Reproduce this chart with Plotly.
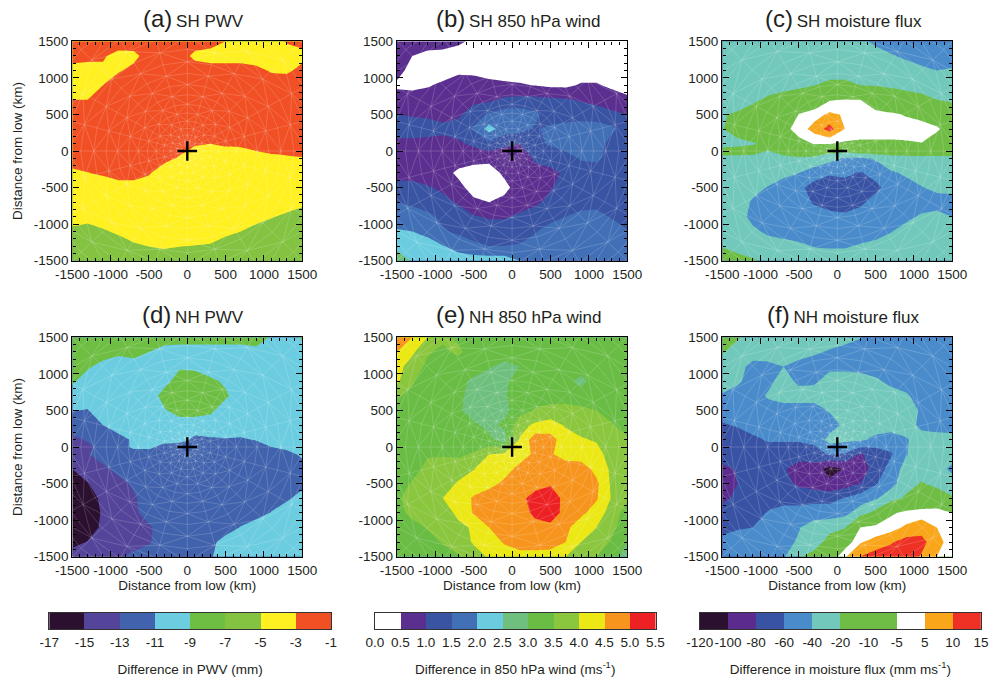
import numpy as np
import plotly.graph_objects as go

W, H = 993, 681
FONT = "Liberation Sans, Arial, sans-serif"
TXT = "#231f20"

X = [-1500,-1300,-1100,-900,-700,-500,-300,-100,100,300,500,700,900,1100,1300,1500]
Y16 = [1500,1300,1100,900,700,500,300,100,-100,-300,-500,-700,-900,-1100,-1300,-1500]
Y17 = [1500,1300,1100,900,700,500,300,100,0,-100,-300,-500,-700,-900,-1100,-1300,-1500]

AXIS_TICKS = [-1500,-1000,-500,0,500,1000,1500]
AXIS_LABELS = ["-1500","-1000","-500","0","500","1000","1500"]

PWV_LEVELS = [-17,-15,-13,-11,-9,-7,-5,-3,-1]
WIND_LEVELS = [0.0,0.5,1.0,1.5,2.0,2.5,3.0,3.5,4.0,4.5,5.0,5.5]
FLUX_LEVELS = [-120,-100,-80,-60,-40,-20,-10,-5,5,10,15]
PWV_LABELS = ["-17","-15","-13","-11","-9","-7","-5","-3","-1"]
WIND_LABELS = ["0.0","0.5","1.0","1.5","2.0","2.5","3.0","3.5","4.0","4.5","5.0","5.5"]
FLUX_LABELS = ["-120","-100","-80","-60","-40","-20","-10","-5","5","10","15"]

PWV_COLORS = ["#2b1030","#54459b","#4163ad","#6ccde0","#6fbe44","#84c341","#fff021","#f15024"]
WIND_COLORS = ["#ffffff","#5b2f8f","#3a54a4","#4270b7","#6bcce0","#6fc07e","#69bd45","#8bc63f","#ece816","#f7941d","#ed2024"]
FLUX_COLORS = ["#2b1030","#5b2c8e","#3953a4","#4a8ccb","#72c9bb","#70bd45","#70bd45","#ffffff","#faa61a","#ee3124"]

SH_PWV = [
 [-2,-2,-2,-2,-2,-2,-2,-2,-2,-2,-3,-4,-4,-4,-2.8,-2.5],
 [-2,-2.3,-2.8,-3.6,-3.5,-2.2,-2,-2,-3.5,-4,-4,-4,-4,-4,-4,-3.5],
 [-4,-4,-3.3,-3.2,-2.5,-2,-2,-2,-2,-2,-2,-2,-2.5,-3.2,-3.3,-2.5],
 [-4,-4,-3,-2,-2,-2,-2,-2,-2,-2,-2,-2,-2,-2,-2,-2],
 [-3,-3,-2,-2,-2,-2,-2,-2,-2,-2,-2,-2,-2,-2,-2,-2],
 [-2,-2,-2,-2,-2,-2,-2,-2,-2,-2,-2,-2,-2,-2,-2,-2],
 [-2,-2,-2,-2,-2,-2,-2,-2,-2,-2,-2,-2,-2,-2,-2,-2],
 [-2,-2,-2,-2,-2,-2,-2,-2,-2.82,-3,-2.75,-2.67,-2,-2,-2,-2],
 [-2,-2,-2,-2,-2,-2,-2.3,-3.25,-4,-4,-4,-4,-4,-3.43,-3.25,-3.1],
 [-3.43,-3.05,-2.75,-2.5,-2.5,-2.8,-4.3,-4,-4,-4,-4,-4,-4,-4,-4,-4],
 [-4,-4,-4,-3.5,-3.5,-4,-4,-4,-4,-4,-4,-4,-4,-4,-4,-4],
 [-4,-4,-4,-4,-4,-4,-4,-4,-4,-4,-4,-4,-4,-4,-4,-4.46],
 [-4,-4.18,-4,-4,-4,-4,-4,-4,-4,-4,-4,-4,-4,-4.89,-5.43,-6],
 [-5.54,-6,-5.25,-4.67,-4,-4,-4,-4,-4,-4,-4.46,-5,-6,-6,-6,-6],
 [-6,-6,-6,-6,-5.33,-4.95,-4.75,-4.95,-5.05,-5.18,-6,-6,-6,-6,-6,-6],
 [-6,-6,-6,-6,-6,-6,-6,-6,-6,-6,-6,-6,-6,-6,-6,-6],
]

SH_WIND = [
 [.75,.75,.75,.75,.6,.4,.25,.25,.25,.25,.25,.25,.25,.25,.25,.25],
 [.75,.5,.35,.3,.25,.25,.25,.25,.25,.25,.25,.25,.25,.25,.25,.25],
 [.7,.3,.25,.25,.4,.4,.3,.25,.25,.25,.25,.25,.25,.25,.25,.25],
 [.4,.35,.45,.6,.75,.7,.65,.6,.55,.48,.4,.4,.55,.55,.4,.3],
 [.75,.75,.75,.75,.75,.85,.9,1.1,1.15,1.15,1.1,1.05,.95,.85,.75,.6],
 [1.0,.95,.9,.8,.9,1.3,1.55,1.75,1.75,1.6,1.25,1.25,1.3,1.25,1.1,1.0],
 [1.25,1.25,1.25,1.15,1.25,1.55,2.2,1.75,1.7,1.45,1.6,1.7,1.75,1.75,1.6,1.25],
 [.85,.85,.8,.8,.9,1.1,1.35,1.1,1.0,1.4,1.55,1.75,1.8,1.75,1.3,1.25],
 [.75,.75,.75,.75,.75,.7,.65,.7,.75,1.05,1.25,1.3,1.55,1.6,1.3,1.25],
 [.75,.75,.75,.7,.4,.25,.25,.6,.75,.9,.85,1.1,1.25,1.25,1.25,1.25],
 [1.25,1.2,1.05,.9,.65,.3,.25,.35,.75,.8,.95,1.25,1.25,1.25,1.25,1.25],
 [1.5,1.4,1.3,1.15,.95,.6,.5,.65,.75,.9,1.15,1.25,1.3,1.3,1.25,1.25],
 [1.75,1.75,1.6,1.4,1.2,1.05,.95,.95,1.1,1.25,1.3,1.5,1.65,1.7,1.45,1.25],
 [2.05,2.0,1.9,1.55,1.4,1.3,1.25,1.25,1.25,1.45,1.75,1.75,1.75,1.75,1.75,1.55],
 [2.25,2.25,2.15,2.02,1.8,1.6,1.5,1.5,1.55,1.75,1.75,1.75,1.75,1.75,1.75,1.75],
 [3.1,2.4,2.25,2.25,2.25,2.25,2.25,2.25,2.0,1.8,1.75,1.75,1.75,1.75,1.75,1.75],
]

SH_FLUX = [
 [-30,-30,-30,-30,-30,-30,-30,-30,-30,-34,-45,-50,-50,-50,-50,-50],
 [-30,-30,-30,-30,-30,-30,-30,-30,-30,-30,-30,-38,-44,-50,-50,-50],
 [-30,-30,-30,-30,-30,-30,-30,-30,-30,-30,-30,-30,-30,-35,-40,-38],
 [-30,-30,-30,-30,-28,-24,-20.5,-17,-17,-20,-21,-23,-26,-28,-30,-30],
 [-28,-27,-24,-18,-15,-14,-12,-5.5,-4.5,-5,-12,-14,-15,-17,-20,-23],
 [-21,-19,-15,-13,-12,-4.5,1,6,4,0,0,-3,-5.5,-7,-13,-13],
 [-21,-15,-12,-12,-7,0,7,12,5,0,0,0,0,0,-2,-12],
 [-28,-26,-22,-16,-12,-7,-4.5,-4.5,-6,-6,-6,-6,-5.7,-5.2,-12,-13],
 [-16,-15,-15,-21,-14,-12,-12,-17,-18,-14,-13,-16,-17,-17,-17,-17],
 [-25,-27,-28,-26,-28,-23,-25,-33,-42,-43,-38,-25,-23,-23,-23,-23],
 [-30,-30,-30,-31,-36,-40,-50,-58,-55,-62,-52,-43,-37,-31,-30,-30],
 [-30,-30,-35,-41,-47,-55,-68,-70,-70,-70,-66,-50,-47,-41,-34,-32],
 [-30,-32,-42,-50,-50,-52,-62,-67,-70,-64,-52,-50,-50,-50,-50,-50],
 [-30,-31,-46,-50,-50,-50,-52,-55,-56,-52,-50,-50,-45,-37,-33,-40],
 [-30,-30,-36,-44,-50,-50,-50,-50,-50,-50,-50,-41,-32,-30,-30,-30],
 [-21,-28,-30,-30,-30,-36,-41,-42,-42,-38,-33,-30,-30,-30,-30,-30],
 [-14,-16,-19,-25,-30,-30,-30,-30,-30,-30,-30,-30,-30,-30,-30,-30],
]

NH_PWV = [
 [-8,-8,-8,-8,-8,-8,-8,-8,-8,-8,-8,-8,-8,-9.2,-10,-8.7],
 [-8,-8,-8,-8.6,-8.2,-9,-9.8,-10,-10,-10,-10,-10,-9.6,-10,-10,-10],
 [-8,-8.7,-9.7,-10,-10,-10,-10,-9.2,-9.4,-10,-10,-10,-10,-10,-10,-10],
 [-8.7,-10,-10,-10,-10,-10,-9.6,-8.2,-8,-8.6,-9.3,-10,-10,-10,-10,-10],
 [-10,-10,-10,-10,-10,-10,-8.3,-8,-8,-8,-8.7,-10,-10,-10,-10,-10],
 [-10.9,-11.1,-10,-10,-10,-10,-9.2,-8.2,-8.2,-8.6,-10,-10,-10,-10,-10,-10],
 [-12,-12,-11,-10.3,-10,-10,-10,-10,-10,-10,-10,-10,-10,-10,-10,-10],
 [-13.5,-12.8,-12,-11.5,-10.8,-10.4,-10.3,-10.3,-11.4,-11.2,-11.1,-11.2,-10.9,-10.3,-10,-10],
 [-14,-13.4,-12.4,-12,-10.6,-10.6,-11.6,-12,-12,-12,-12,-12,-11.6,-11,-10.6,-10.2],
 [-13.5,-13.1,-12.2,-12,-12,-11.8,-12,-12,-12,-12,-12,-12,-12,-11.8,-11.5,-10.7],
 [-15,-14,-13.4,-12.5,-12,-12,-12,-12,-12,-12,-12,-12,-12,-12,-12,-11.7],
 [-16,-15.1,-14,-13.6,-12.7,-12,-12,-12,-12,-12,-12,-12,-12,-12,-12,-11.5],
 [-16,-16,-14.5,-14,-13.3,-12,-12,-12,-12,-12,-12,-12,-12,-11.8,-11.3,-10.3],
 [-16,-16,-14.8,-14,-13.5,-12,-12,-12,-12,-12,-12,-12,-11.8,-10.9,-10,-10],
 [-16,-16,-14.6,-14,-14,-13.3,-12,-12,-12,-12,-11.8,-10.9,-10,-10,-10,-10],
 [-15.7,-14.9,-14,-14,-14,-13.2,-12,-12,-12,-11.5,-10.3,-10,-10,-10,-10,-10],
 [-14,-14,-14,-13.3,-12.4,-12,-12,-12,-12,-11.2,-10,-10,-10,-10,-10,-10],
]

NH_WIND = [
 [4.9,4.5,4.0,3.6,3.4,3.25,3.25,3.25,3.25,3.25,3.25,3.25,3.25,3.25,3.25,3.25],
 [4.5,4.1,3.55,3.4,3.6,3.25,3.25,3.25,3.25,3.25,3.25,3.25,3.25,3.25,3.25,3.25],
 [4.2,3.75,3.4,3.25,3.25,3.25,3.05,2.85,3.0,3.25,3.25,3.25,3.25,3.25,3.25,3.25],
 [4.1,3.55,3.25,3.25,3.15,2.9,2.75,2.9,3.25,3.25,3.25,3.15,2.85,3.25,3.25,3.25],
 [3.55,3.4,3.25,3.25,3.15,2.75,2.75,2.95,3.25,3.25,3.25,3.25,3.25,3.25,3.25,3.25],
 [3.25,3.25,3.25,3.25,3.05,2.85,2.75,2.85,3.3,3.55,3.7,3.7,3.6,3.5,3.25,3.25],
 [3.25,3.25,3.25,3.25,3.25,3.05,2.9,3.1,3.8,4.1,4.2,3.95,3.8,3.7,3.55,3.25],
 [3.25,3.25,3.25,3.25,3.25,3.25,3.1,2.8,4.05,4.8,4.7,4.2,4.05,3.95,3.75,3.55],
 [3.25,3.25,3.45,3.45,3.4,3.55,4.0,4.1,4.25,4.6,4.55,4.3,4.25,4.2,3.75,3.5],
 [3.25,3.3,3.65,3.75,3.8,3.98,4.3,4.3,4.65,4.75,4.75,4.75,4.75,4.35,3.9,3.5],
 [3.25,3.55,3.75,3.8,4.05,4.25,4.35,4.6,4.75,4.85,4.95,4.85,4.75,4.6,3.9,3.5],
 [3.4,3.75,3.75,4.0,4.25,4.55,4.75,4.75,4.9,5.15,5.25,4.85,4.75,4.55,3.95,3.6],
 [3.25,3.7,3.75,3.8,4.1,4.55,4.75,4.75,4.8,5.1,5.3,4.8,4.6,4.3,3.75,3.3],
 [3.25,3.25,3.55,3.75,3.9,4.05,4.5,4.75,4.75,4.85,4.85,4.6,4.25,4.0,3.6,3.25],
 [3.25,3.25,3.25,3.55,3.75,4.05,4.25,4.55,4.75,4.75,4.75,4.5,4.0,3.75,3.45,3.0],
 [3.1,3.25,3.25,3.25,3.45,3.8,4.05,4.25,4.3,4.3,4.25,4.0,3.85,3.5,3.25,2.7],
]

NH_FLUX = [
 [-12,-19,-27,-30,-30,-30,-30,-30,-30,-39,-50,-50,-50,-50,-50,-50],
 [-19,-28,-31,-38,-30,-30,-37,-42,-50,-50,-50,-50,-50,-50,-50,-50],
 [-30,-33,-46,-41,-40,-48,-50,-45,-46,-50,-50,-50,-50,-50,-50,-50],
 [-30,-36,-50,-46,-30,-45,-44,-30,-28,-27,-36,-46,-50,-50,-50,-50],
 [-42,-50,-50,-37,-30,-30,-30,-30,-30,-30,-30,-30,-37,-50,-50,-50],
 [-50,-50,-50,-50,-50,-50,-50,-38,-30,-30,-30,-30,-30,-43,-50,-50],
 [-62,-58,-52,-50,-50,-50,-50,-50,-35,-30,-30,-30,-30,-46,-50,-50],
 [-70,-70,-64,-58,-58,-58,-55,-33,-36,-37,-45,-50,-42,-30,-30,-32],
 [-70,-70,-70,-70,-70,-70,-68,-58,-62,-82,-72,-62,-41,-30,-30,-30],
 [-85,-78,-70,-70,-78,-90,-90,-108,-98,-90,-72,-52,-32,-30,-31,-45],
 [-90,-80,-70,-70,-75,-83,-90,-95,-90,-80,-62,-46,-30,-19,-27,-30],
 [-85,-75,-70,-70,-70,-70,-66,-66,-59,-50,-42,-30,-18,-14,-12,-19],
 [-70,-70,-70,-58,-50,-50,-50,-50,-46,-30,-17,-6,-2,0,0,-5],
 [-65,-62,-60,-50,-47,-41,-30,-26,-22,-5,-2,1,6,8,5,0],
 [-55,-50,-50,-50,-45,-38,-30,-16,-9,4,7,9.5,12,11.5,7,0],
 [-45,-50,-50,-50,-42,-22,-16,-10,4,10,12.5,12.5,12.5,9.5,5,0],
]

PANELS = [
 ("(a)","SH PWV",SH_PWV,Y16,PWV_LEVELS,PWV_COLORS),
 ("(b)","SH 850 hPa wind",SH_WIND,Y16,WIND_LEVELS,WIND_COLORS),
 ("(c)","SH moisture flux",SH_FLUX,Y17,FLUX_LEVELS,FLUX_COLORS),
 ("(d)","NH PWV",NH_PWV,Y17,PWV_LEVELS,PWV_COLORS),
 ("(e)","NH 850 hPa wind",NH_WIND,Y16,WIND_LEVELS,WIND_COLORS),
 ("(f)","NH moisture flux",NH_FLUX,Y16,FLUX_LEVELS,FLUX_COLORS),
]
BARS = [
 (PWV_LABELS,PWV_COLORS,"Difference in PWV (mm)"),
 (WIND_LABELS,WIND_COLORS,"Difference in 850 hPa wind (ms<sup>-1</sup>)"),
 (FLUX_LABELS,FLUX_COLORS,"Difference in moisture flux (mm ms<sup>-1</sup>)"),
]

PANEL_X = [(72.3,302.3),(396.9,627.3),(722.3,952.3)]
PANEL_Y = [(41.3,260.7),(337.3,556.7)]
BAR_X = [(49.2,331.0),(375.0,655.5),(699.8,981.0)]
BAR_Y = (612.7,629.3)

def xdom(a): return [a[0]/W, a[1]/W]
def ydom(a): return [1-a[1]/H, 1-a[0]/H]

RINGS = [70,140,220,310,410,520,640,770,910,1060,1220,1390,1570,1760,1960,2170]
ANGLES = np.deg2rad(np.arange(0,361,15))
mx, my = [], []
for a in ANGLES[:-1]:
    mx += [RINGS[0]*np.cos(a), RINGS[-1]*np.cos(a), None]
    my += [RINGS[0]*np.sin(a), RINGS[-1]*np.sin(a), None]
for r in RINGS[1:]:
    mx += list(r*np.cos(ANGLES)) + [None]
    my += list(r*np.sin(ANGLES)) + [None]
for i in range(len(RINGS)-1):
    for j in range(len(ANGLES)-1):
        k = j+1 if (i+j)%2 else j
        l = j if (i+j)%2 else j+1
        mx += [RINGS[i]*np.cos(ANGLES[k]), RINGS[i+1]*np.cos(ANGLES[l]), None]
        my += [RINGS[i]*np.sin(ANGLES[k]), RINGS[i+1]*np.sin(ANGLES[l]), None]

def anchor_scale(cols):
    n = len(cols)
    return [[k/(n-1), c] for k, c in enumerate(cols)]

fig = go.Figure()
layout = dict(width=W, height=H, margin=dict(l=0,r=0,t=0,b=0,autoexpand=False), autosize=False,
              paper_bgcolor="white", plot_bgcolor="white", showlegend=False,
              font=dict(family=FONT, size=13.5, color=TXT))
annotations = []
axfont = dict(family=FONT, size=13.5, color=TXT)

for n, (tag, name, grid, ys, levels, cols) in enumerate(PANELS):
    row, col = divmod(n, 3)
    xa, ya = f"x{n+1}", f"y{n+1}"
    idx = np.interp(np.array(grid, float), levels, np.arange(len(levels)))
    N = len(cols)
    fig.add_trace(go.Contour(x=X, y=ys[::-1], z=idx[::-1].tolist(), xaxis=xa, yaxis=ya,
        contours=dict(start=1, end=N-1, size=1, coloring="fill", showlines=False),
        colorscale=anchor_scale(cols), showscale=False, line=dict(width=0, smoothing=0), hoverinfo="skip"))
    fig.add_trace(go.Scatter(x=mx, y=my, xaxis=xa, yaxis=ya, mode="lines",
        line=dict(color="rgba(255,255,255,0.24)", width=0.7), hoverinfo="skip"))
    fig.add_trace(go.Scatter(x=[0], y=[0], xaxis=xa, yaxis=ya, mode="markers",
        marker=dict(symbol="cross-thin", size=14, line=dict(color="black", width=2.4)), hoverinfo="skip"))
    common = dict(range=[-1500,1500], tickmode="array", tickvals=AXIS_TICKS, ticktext=AXIS_LABELS,
        ticks="inside", ticklen=6, tickwidth=1, tickcolor="black", showline=True, linecolor="black",
        linewidth=1.4, mirror="allticks", showgrid=False, zeroline=False, tickfont=axfont, tickangle=0,
        automargin=False,
        minor=dict(ticks="inside", ticklen=3, tickwidth=1, tickcolor="black", tickmode="linear", tick0=-1500, dtick=100))
    xax = dict(common, domain=xdom(PANEL_X[col]), anchor=ya, ticklabelstandoff=1)
    yax = dict(common, domain=ydom(PANEL_Y[row]), anchor=xa)
    if row == 1:
        xax["title"] = dict(text="Distance from low (km)", font=axfont, standoff=0)
    if col == 0:
        yax["title"] = dict(text="Distance from low (km)", font=axfont, standoff=8)
    layout[f"xaxis{n+1}"] = xax
    layout[f"yaxis{n+1}"] = yax
    cx = sum(PANEL_X[col])/2 + 6
    cy = [19, 314][row]
    annotations.append(dict(x=cx/W, y=1-cy/H, xref="paper", yref="paper", showarrow=False,
        xanchor="center", yanchor="middle",
        text=f"<span style='font-size:24px'>{tag}</span> <span style='font-size:17px'>{name}</span>",
        font=dict(family=FONT, color=TXT)))

for b, (labels, cols, title) in enumerate(BARS):
    i = len(PANELS)+b+1
    xa, ya = f"x{i}", f"y{i}"
    N = len(cols)
    fig.add_trace(go.Heatmap(x=list(range(N+1)), y=[0,1], z=[list(range(N))], xaxis=xa, yaxis=ya,
        zmin=-0.5, zmax=N-0.5, showscale=False, hoverinfo="skip",
        colorscale=[p for k,c in enumerate(cols) for p in ([k/N,c],[(k+1)/N,c])]))
    layout[f"xaxis{i}"] = dict(domain=xdom(BAR_X[b]), anchor=ya, range=[0,N], tickmode="array",
        tickvals=list(range(N+1)), ticktext=labels, ticks="", showline=True, linecolor="#333333",
        linewidth=1.2, mirror=True, showgrid=False, zeroline=False, tickfont=axfont, ticklabelstandoff=0,
        tickangle=0, automargin=False, title=dict(text=title, font=axfont, standoff=15))
    layout[f"yaxis{i}"] = dict(domain=ydom(BAR_Y), anchor=xa, range=[0,1], showticklabels=False, automargin=False,
        ticks="", showline=True, linecolor="#333333", linewidth=1.2, mirror=True, showgrid=False, zeroline=False)

layout["annotations"] = annotations
fig.update_layout(**layout)
fig.write_html("out.html", config=dict(displayModeBar=False), post_script="document.body.style.margin='0';")
